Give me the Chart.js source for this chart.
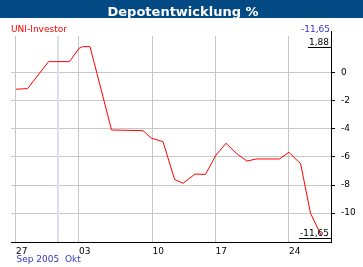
<!DOCTYPE html>
<html>
<head>
<meta charset="utf-8">
<script src="https://cdn.jsdelivr.net/npm/chart.js@4/dist/chart.umd.min.js"></script>
<style>
  html, body { margin: 0; padding: 0; background: #fff; overflow: hidden; }
</style>
</head>
<body>
<canvas id="depotChart" width="363" height="267"></canvas>
<script>
const TITLE = "Depotentwicklung %";
const SERIES_NAME = "UNI-Investor";

// days since 27 Sep 2005 and performance in %
const dayPos = [0, 1.1, 3.1, 5.1, 6, 6.35, 7.05, 9.1, 12.1, 12.9, 14, 15.1, 15.9, 17.05, 18.05,
                19.05, 20, 21, 22, 22.9, 25.1, 26, 26.9, 27.1, 28.05, 29.1];
const values = [-1.16, -1.12, 0.81, 0.81, 1.76, 1.88, 1.88, -4.07, -4.12, -4.66, -4.9, -7.6, -7.88, -7.22, -7.24,
                -5.86, -5.02, -5.75, -6.29, -6.14, -6.14, -5.66, -6.34, -6.45, -10.02, -11.65];

const xTickPos = [0, 6, 13, 19, 26];
const xTickLabels = ["27", "03", "10", "17", "24"];
const yTicks = [0, -2, -4, -6, -8, -10];
const monthBreak = 4;
const monthLabels = ["Sep 2005", "Okt"];
const lastValueLabel = "-11,65";
const maxLabel = "1,88";
const minLabel = "-11,65";

const COLOR = {
    bar: "#034A84",
    line: "#FF0000",
    blue: "#3535C8",
    grid: "#C8C8C8",
    month: "#DCE1F0",
};
const FONT = "DejaVu Sans";

const decor = {
    id: "decor",
    beforeDraw(chart) {
        const ctx = chart.ctx;
        ctx.save();
        ctx.fillStyle = "#fff";
        ctx.fillRect(0, 0, chart.width, chart.height);
        ctx.fillStyle = COLOR.bar;
        ctx.fillRect(0, 0, chart.width, 18);
        ctx.fillStyle = "#fff";
        ctx.font = `bold 13px "${FONT}"`;
        ctx.textAlign = "center";
        ctx.textBaseline = "alphabetic";
        ctx.fillText(TITLE, 183, 16);
        ctx.restore();
    },
    beforeDatasetsDraw(chart) {
        // month separator
        const ctx = chart.ctx, a = chart.chartArea;
        const x = Math.round(chart.scales.x.getPixelForValue(monthBreak));
        ctx.save();
        ctx.fillStyle = COLOR.month;
        ctx.fillRect(x - 1, a.top, 2, a.bottom - a.top);
        ctx.restore();
    },
    afterDraw(chart) {
        const ctx = chart.ctx, a = chart.chartArea;
        const xs = chart.scales.x, ys = chart.scales.y;
        ctx.save();
        ctx.font = `9px "${FONT}"`;
        ctx.textBaseline = "alphabetic";

        ctx.fillStyle = COLOR.line;
        ctx.textAlign = "left";
        ctx.fillText(SERIES_NAME, 11, 32);

        ctx.fillStyle = COLOR.blue;
        ctx.textAlign = "right";
        ctx.fillText(lastValueLabel, a.right - 1, 32);

        // max / min markers
        ctx.fillStyle = "#000";
        ctx.strokeStyle = "#000";
        ctx.lineWidth = 1;
        const maxY = Math.round(ys.getPixelForValue(Math.max(...values)));
        const minY = Math.round(ys.getPixelForValue(Math.min(...values))) + 2;
        [[maxLabel, maxY], [minLabel, minY]].forEach(([txt, y]) => {
            const w = ctx.measureText(txt).width;
            ctx.fillText(txt, a.right - 2, y - 2.5);
            ctx.beginPath();
            ctx.moveTo(a.right - 3 - w, y + 0.5);
            ctx.lineTo(a.right + 0.5, y + 0.5);
            ctx.stroke();
        });
        ctx.beginPath();
        ctx.moveTo(a.right + 0.5, 31);
        ctx.lineTo(a.right + 0.5, a.top);
        ctx.stroke();

        // month labels
        ctx.fillStyle = COLOR.blue;
        ctx.textAlign = "left";
        ctx.fillText(monthLabels[0], xs.getPixelForValue(0) + 0.5, 262);
        ctx.fillText(monthLabels[1], xs.getPixelForValue(monthBreak) + 7, 262);
        ctx.restore();
    },
};

new Chart(document.getElementById("depotChart"), {
    type: "line",
    data: {
        datasets: [{
            data: dayPos.map((x, i) => ({ x, y: values[i] })),
            borderColor: COLOR.line,
            borderWidth: 1,
            pointRadius: 0,
            tension: 0,
            fill: false,
        }],
    },
    options: {
        responsive: false,
        animation: false,
        devicePixelRatio: 1,
        layout: { padding: { left: 11, top: 36, right: 0, bottom: 0 } },
        plugins: { legend: { display: false }, tooltip: { enabled: false } },
        scales: {
            x: {
                type: "linear",
                min: -0.476,
                max: 30,
                afterFit(s) { s.height = 25; },
                afterBuildTicks(s) { s.ticks = xTickPos.map(v => ({ value: v })); },
                grid: { color: COLOR.grid, drawTicks: false },
                border: { color: "#000", width: 1 },
                ticks: {
                    align: "start",
                    padding: 4,
                    autoSkip: false,
                    maxRotation: 0,
                    color: "#000",
                    font: { family: FONT, size: 9 },
                    callback: (v, i) => xTickLabels[i],
                },
            },
            y: {
                position: "right",
                min: -12.07,
                max: 2.64,
                afterFit(s) { s.width = 32; },
                afterBuildTicks(s) { s.ticks = yTicks.map(v => ({ value: v })); },
                grid: { color: COLOR.grid, tickColor: "#000", tickLength: 4 },
                border: { color: "#000", width: 1 },
                ticks: {
                    padding: 6,
                    color: "#000",
                    font: { family: FONT, size: 9 },
                    callback: v => String(v),
                },
            },
        },
    },
    plugins: [decor],
});
</script>
</body>
</html>
